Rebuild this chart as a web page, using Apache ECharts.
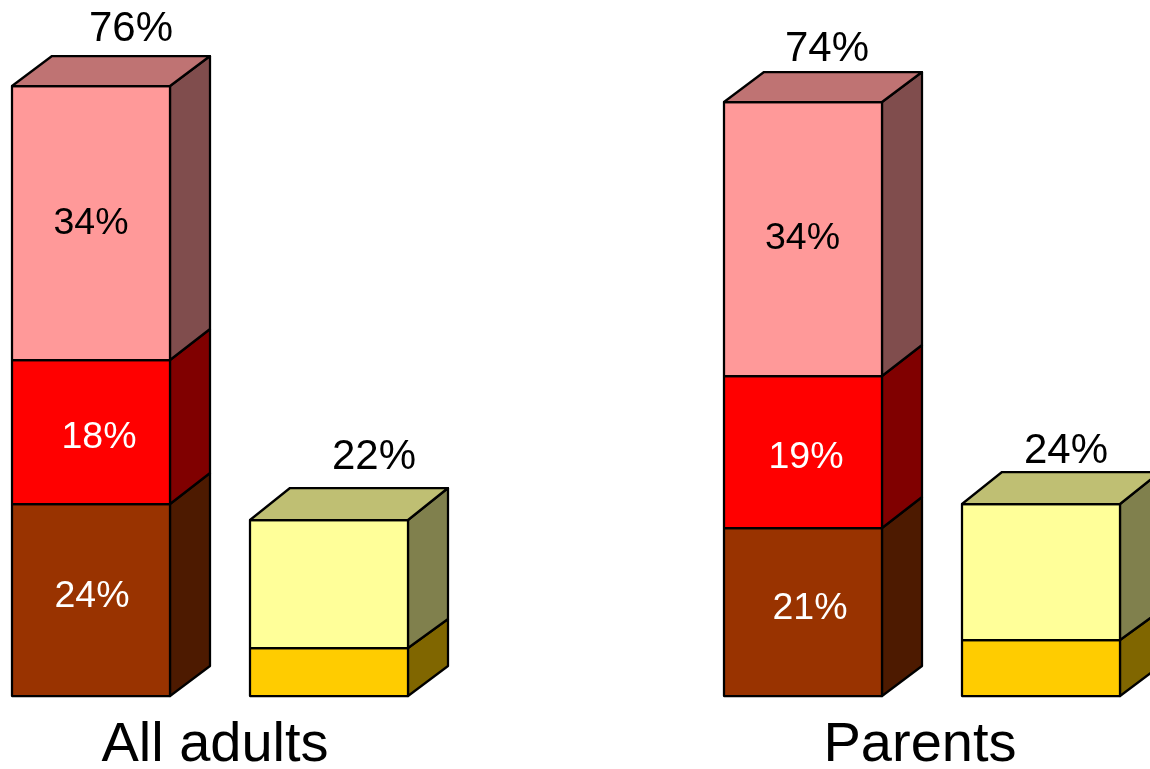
<!DOCTYPE html>
<html>
<head>
<meta charset="utf-8">
<style>html,body{margin:0;padding:0;background:#fff}#c{width:1150px;height:769px}</style>
<script src="https://cdn.jsdelivr.net/npm/echarts@6/dist/echarts.min.js"></script>
</head>
<body>
<div id="c"></div>
<script>
// Data, one value per group
const groups = ['All adults', 'Parents'];
const columns = ['first', 'second'];
const brownValues = [24, 21];
const redValues = [18, 19];
const pinkValues = [34.25, 34.25];
const goldValues = [6, 7];
const yellowValues = [16, 17];
const firstTotals = [76, 74];
const secondTotals = [22, 24];

// Styling and layout
const FONT = '"Liberation Sans", Arial, sans-serif';
const BAR_W = 158, DX = 40, DY = 30;
const SEG_FONT = 37.5, TOTAL_FONT = 42, CAT_FONT = 56;
const GRID_LEFT = [-28, 684];
const SEGMENTS = [
  {name: 'brown', values: brownValues, col: 0, below: [], depthLow: DY, depthHigh: 31, front: '#993300', side: '#4D1A00', text: '#fff', nudge: [[1, -3], [7, -3]]},
  {name: 'red', values: redValues, col: 0, below: [brownValues], depthLow: 31, depthHigh: 31, front: '#FF0000', side: '#800000', text: '#fff', nudge: [[8, 6], [3, 6]]},
  {name: 'pink', values: pinkValues, col: 0, below: [brownValues, redValues], depthLow: 31, depthHigh: DY, front: '#FF9999', side: '#804D4D', top: '#BF7373', text: '#000', nudge: [[0, 0.5], [-0.5, -0.5]]},
  {name: 'gold', values: goldValues, col: 1, below: [], depthLow: DY, depthHigh: 29, front: '#FFCC00', side: '#806600'},
  {name: 'yellow', values: yellowValues, col: 1, below: [goldValues], depthLow: 29, depthHigh: 32, front: '#FFFF99', side: '#80804D', top: '#BFBF73'}
];
const TOTAL_NUDGE = [
  [[40, -59], [24, -55]],
  [[45, -63], [25, -53]]
];

const stroke = {stroke: '#000', lineWidth: 2.25, lineJoin: 'round'};
function poly(points, fill) {
  return {type: 'polygon', shape: {points}, style: Object.assign({fill}, stroke)};
}

function segmentRender(seg, groupIdx) {
  return function (params, api) {
    const c = api.value(0), from = api.value(1), to = api.value(2);
    const a = api.coord([c, from]), b = api.coord([c, to]);
    const l = a[0] - BAR_W / 2, r = a[0] + BAR_W / 2, y0 = a[1], y1 = b[1];
    const low = seg.depthLow, high = seg.depthHigh;
    const children = [
      poly([[r, y0], [r + DX, y0 - low], [r + DX, y1 - high], [r, y1]], seg.side),
      poly([[l, y0], [r, y0], [r, y1], [l, y1]], seg.front)
    ];
    if (seg.top) children.push(poly([[l, y1], [l + DX, y1 - high], [r + DX, y1 - high], [r, y1]], seg.top));
    if (seg.text) {
      const n = seg.nudge[groupIdx];
      children.push({type: 'text', style: {
        x: a[0] + n[0], y: (y0 + y1) / 2 + n[1], text: Math.round(to - from) + '%', fill: seg.text,
        font: SEG_FONT + 'px ' + FONT, align: 'center', verticalAlign: 'middle'
      }});
    }
    return {type: 'group', children};
  };
}

function totalRender(groupIdx, col) {
  return function (params, api) {
    const p = api.coord([api.value(0), api.value(1)]);
    const n = TOTAL_NUDGE[col][groupIdx];
    return {type: 'text', style: {
      x: p[0] + n[0], y: p[1] + n[1], text: api.value(1) + '%', fill: '#000',
      font: TOTAL_FONT + 'px ' + FONT, align: 'center', verticalAlign: 'middle'
    }};
  };
}

const series = [];
groups.forEach((g, gi) => {
  SEGMENTS.forEach(seg => {
    const base = seg.below.reduce((s, arr) => s + arr[gi], 0);
    series.push({
      type: 'custom', name: seg.name, xAxisIndex: gi, yAxisIndex: gi, clip: false, silent: true,
      renderItem: segmentRender(seg, gi),
      data: [[seg.col, base, base + seg.values[gi]]]
    });
  });
  [firstTotals, secondTotals].forEach((tot, col) => {
    series.push({
      type: 'custom', name: 'total', xAxisIndex: gi, yAxisIndex: gi, clip: false, silent: true, z: 5,
      renderItem: totalRender(gi, col),
      data: [[col, tot[gi]]]
    });
  });
});

const chart = echarts.init(document.getElementById('c'), null, {renderer: 'canvas', width: 1150, height: 769});
chart.setOption({
  animation: false,
  backgroundColor: '#fff',
  tooltip: {show: false},
  grid: groups.map((g, i) => ({left: GRID_LEFT[i], top: 86, width: 476, height: 610, containLabel: false, outerBoundsMode: 'none'})),
  xAxis: groups.map((g, i) => ({
    type: 'category', gridIndex: i, data: columns,
    axisLine: {show: false}, axisTick: {show: false}, axisLabel: {show: false}, splitLine: {show: false},
    name: g, nameLocation: 'middle', nameGap: 22,
    nameTextStyle: {fontFamily: FONT, fontSize: CAT_FONT, color: '#000', padding: [0, 0, 0, i ? -4 : 10]}
  })),
  yAxis: groups.map((g, i) => ({
    type: 'value', gridIndex: i, min: 0, max: 76.25, show: false
  })),
  series
});
</script>
</body>
</html>
